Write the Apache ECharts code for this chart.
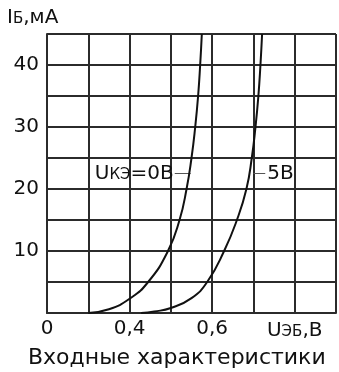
<!DOCTYPE html>
<html><head><meta charset="utf-8">
<script src="https://cdn.jsdelivr.net/npm/echarts@6/dist/echarts.min.js"></script>
<style>html,body{margin:0;padding:0;background:#fff}#c{width:339px;height:372px}</style>
</head><body><div id="c"></div>
<script>
// Input characteristics: base current I_B (mA) vs base-emitter voltage U_EB (V)
const curveUce0 = [[0.300,0],[0.350,0.6],[0.400,2.3],[0.445,5],[0.493,10],[0.521,15],[0.538,20],[0.550,25],[0.559,30],[0.566,35],[0.571,40],[0.575,45]];
const curveUce5 = [[0.428,0],[0.460,0.25],[0.500,0.8],[0.550,2.4],[0.588,5],[0.629,10],[0.660,15],[0.683,20],[0.696,25],[0.705,30],[0.712,35],[0.717,40],[0.721,45]];
const yTickLabels = [10,20,30,40];
const xTickValues = [0.2,0.4,0.6,0.8];
const xTickTexts = ['0','0,4','0,6','{u|U}{s|ЭБ}{u|,В}'];
const seriesNames = ['Uкэ=0В','5В'];
const labelLineUce0 = [[0.5095,22.6],[0.548,22.6]];
const labelLineUce5 = [[0.700,22.6],[0.7286,22.6]];
const titleText = 'Входные характеристики';

const F = 'DejaVu Sans';
const C = '#111';
const gridLine = {color:'#2b2b2b', width:2};
const rich = {
  u:{fontSize:20, fontFamily:F, color:C, verticalAlign:'bottom', lineHeight:22},
  s:{fontSize:15, fontFamily:F, color:C, verticalAlign:'bottom', lineHeight:22, padding:[0,0,1,0]}
};
const chart = echarts.init(document.getElementById('c'), null, {renderer:'canvas'});
chart.setOption({
  animation:false,
  backgroundColor:'#fff',
  title:{text:titleText, left:23, top:342, textStyle:{fontSize:22, fontWeight:'normal', color:C, fontFamily:F}},
  graphic:[{type:'text', left:7, top:8, style:{text:'{a|I}{b|Б}{a|,мА}', rich:{
    a:{fontSize:20, fontFamily:F, fill:C, verticalAlign:'bottom', lineHeight:22},
    b:{fontSize:15, fontFamily:F, fill:C, verticalAlign:'bottom', lineHeight:22, padding:[0,0,1,0]}}}}],
  grid:{left:47, right:-2, top:34, bottom:59, containLabel:false},
  xAxis:{type:'value', min:0.2, max:0.9, interval:0.1,
    axisLine:{show:true, onZero:false, lineStyle:gridLine}, axisTick:{show:false},
    splitLine:{show:true, lineStyle:gridLine},
    axisLabel:{margin:6, fontSize:20, color:C, fontFamily:F, rich:rich,
      formatter:function(v){ for(let i=0;i<xTickValues.length;i++){ if(Math.abs(v-xTickValues[i])<1e-6) return xTickTexts[i]; } return ''; }}},
  yAxis:{type:'value', min:0, max:45, interval:5,
    axisLine:{show:true, lineStyle:gridLine}, axisTick:{show:false},
    splitLine:{show:true, lineStyle:gridLine},
    axisLabel:{margin:8, fontSize:20, color:C, fontFamily:F,
      formatter:function(v){ return yTickLabels.indexOf(Math.round(v))>=0 && Math.abs(v-Math.round(v))<1e-6 ? String(Math.round(v)) : ''; }}},
  series:[
    {name:seriesNames[0], type:'line', data:curveUce0, smooth:0.5, symbol:'none', lineStyle:{color:C, width:2}, z:5,
     markLine:{silent:true, symbol:['none','none'], label:{show:false}, lineStyle:{color:'#555', width:1, type:'solid'},
       data:[[{coord:labelLineUce0[0]},{coord:labelLineUce0[1]}]]},
     markPoint:{symbolSize:0, data:[{coord:labelLineUce0[0]}],
       label:{show:true, position:'left', distance:1, formatter:'{u|U}{s|КЭ}{u|=0В}', rich:rich}}},
    {name:seriesNames[1], type:'line', data:curveUce5, smooth:0.5, symbol:'none', lineStyle:{color:C, width:2}, z:5,
     markLine:{silent:true, symbol:['none','none'], label:{show:false}, lineStyle:{color:'#555', width:1, type:'solid'},
       data:[[{coord:labelLineUce5[0]},{coord:labelLineUce5[1]}]]},
     markPoint:{symbolSize:0, data:[{coord:labelLineUce5[1]}],
       label:{show:true, position:'right', distance:2, formatter:'{u|5В}', rich:rich}}}
  ]
});
</script></body></html>
